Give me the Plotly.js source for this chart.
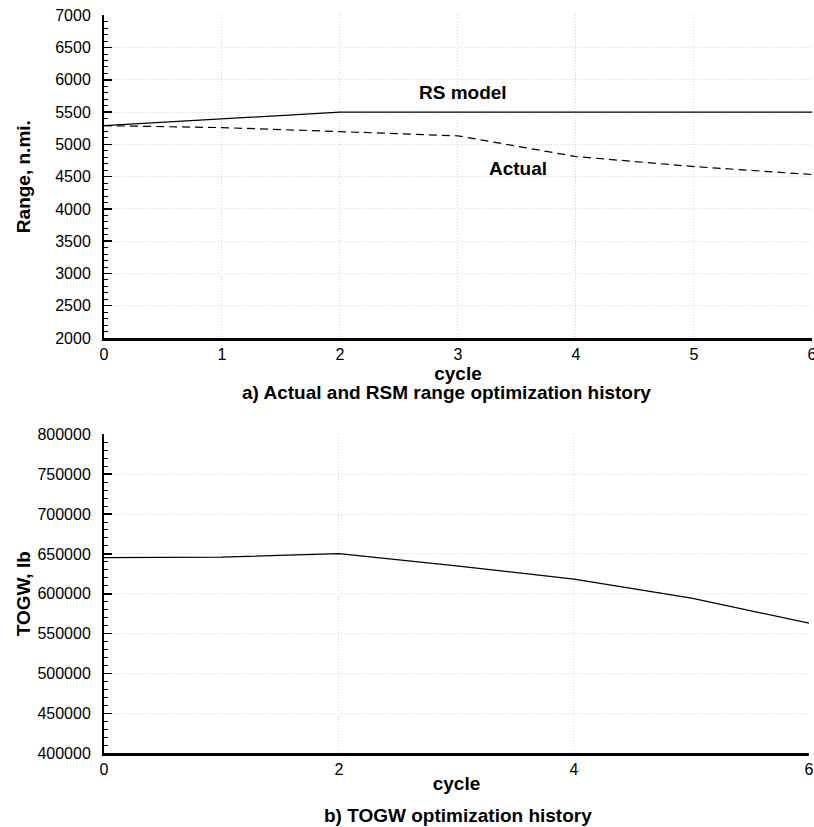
<!DOCTYPE html>
<html>
<head>
<meta charset="utf-8">
<script src="https://cdn.plot.ly/plotly-3.0.1.min.js"></script>
<style>html,body{margin:0;padding:0;background:#fff;}#chart{width:814px;height:827px;}</style>
</head>
<body>
<div id="chart"></div>
<script>
// Data
const cycles = [0, 1, 2, 3, 4, 5, 6];
const rsModelRange = [5290, 5395, 5500, 5500, 5500, 5500, 5500];
const actualRange = [5290, 5260, 5198, 5132, 4811, 4656, 4533];
const togw = [645400, 646000, 650400, 635000, 618300, 594500, 563200];
const topXTicks = [0, 1, 2, 3, 4, 5, 6];
const bottomXTicks = [0, 2, 4, 6];

const FONT = 'Liberation Sans, Arial, Helvetica, sans-serif';

const traces = [
  {x: cycles, y: rsModelRange, type: 'scatter', mode: 'lines', name: 'RS model',
   line: {color: '#000', width: 1.2}, xaxis: 'x', yaxis: 'y'},
  {x: cycles, y: actualRange, type: 'scatter', mode: 'lines', name: 'Actual',
   line: {color: '#000', width: 1.2, dash: '8px,5px'}, xaxis: 'x', yaxis: 'y'},
  {x: cycles, y: togw, type: 'scatter', mode: 'lines', name: 'TOGW',
   line: {color: '#000', width: 1.2}, xaxis: 'x2', yaxis: 'y2'}
];

const gridStyle = {showgrid: true, gridcolor: '#d4d4d4', gridwidth: 1, griddash: '1px,2px'};

const yCommon = Object.assign({
  showline: true, linecolor: '#000', linewidth: 2, zeroline: false,
  ticks: 'inside', ticklen: 8, tickwidth: 1.5, tickcolor: '#000',
  tickfont: {family: FONT, size: 16, color: '#000'},
  ticklabelstandoff: 8, automargin: false
}, gridStyle);

const xCommon = Object.assign({
  showline: true, linecolor: '#000', linewidth: 2.5, zeroline: false,
  ticks: '', tickfont: {family: FONT, size: 16, color: '#000'},
  automargin: false, tickmode: 'array', ticklabeloverflow: 'allow'
}, gridStyle);

const titleFont = {family: FONT, size: 19, weight: 'bold', color: '#000'};

const layout = {
  width: 814, height: 827,
  margin: {l: 0, r: 0, t: 0, b: 0},
  paper_bgcolor: '#fff', plot_bgcolor: '#fff',
  showlegend: false,
  font: {family: FONT, color: '#000'},
  xaxis: Object.assign({}, xCommon, {
    domain: [0.12776, 0.99754], range: [0, 6], anchor: 'y',
    tickvals: topXTicks, ticktext: topXTicks.map(String),
    title: {text: 'cycle', font: titleFont, standoff: 0}
  }),
  yaxis: Object.assign({}, yCommon, {
    domain: [0.59129, 0.98150], range: [2000, 7000], anchor: 'x',
    dtick: 500, tick0: 2000,
    minor: {ticks: 'inside', ticklen: 4, tickwidth: 1, tickcolor: '#000', dtick: 100, showgrid: false},
    title: {text: 'Range, n.mi.', font: titleFont, standoff: 20}
  }),
  xaxis2: Object.assign({}, xCommon, {
    domain: [0.12776, 0.99386], range: [0, 6], anchor: 'y2',
    tickvals: bottomXTicks, ticktext: bottomXTicks.map(String),
    title: {text: 'cycle', font: titleFont, standoff: 0}
  }),
  yaxis2: Object.assign({}, yCommon, {
    domain: [0.08912, 0.47485], range: [400000, 800000], anchor: 'x2',
    dtick: 50000, tick0: 400000, tickformat: 'd',
    minor: {ticks: 'inside', ticklen: 4, tickwidth: 1, tickcolor: '#000', dtick: 10000, showgrid: false},
    title: {text: 'TOGW, lb', font: titleFont, standoff: 2}
  }),
  annotations: [
    {text: '<b>RS model</b>', x: 3.04, y: 5797, xref: 'x', yref: 'y', showarrow: false,
     font: {family: FONT, size: 19, color: '#000'}},
    {text: '<b>Actual</b>', x: 3.51, y: 4621, xref: 'x', yref: 'y', showarrow: false,
     font: {family: FONT, size: 19, color: '#000'}},
    {text: '<b>a) Actual and RSM range optimization history</b>', x: 447/814, y: 1 - 392/827,
     xref: 'paper', yref: 'paper', showarrow: false, xanchor: 'center', yanchor: 'middle',
     font: {family: FONT, size: 19, color: '#000'}},
    {text: '<b>b) TOGW optimization history</b>', x: 458/814, y: 1 - 815/827,
     xref: 'paper', yref: 'paper', showarrow: false, xanchor: 'center', yanchor: 'middle',
     font: {family: FONT, size: 19, color: '#000'}}
  ]
};

Plotly.newPlot('chart', traces, layout, {displayModeBar: false, staticPlot: true});
</script>
</body>
</html>
